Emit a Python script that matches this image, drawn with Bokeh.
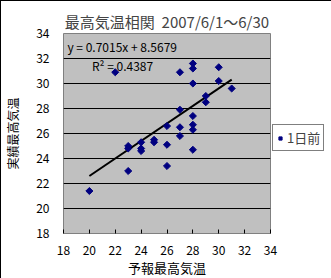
import numpy as np
from bokeh.plotting import figure
from bokeh.models import Range1d, FixedTicker, Legend, LegendItem, ColumnDataSource
from bokeh.core.properties import value
from bokeh.embed import file_html
from bokeh.resources import INLINE

title_text = "最高気温相関\u00a0\u00a02007/6/1～6/30"
x_label = "予報最高気温"
y_label = "実績最高気温"
series_name = "1日前"

forecast = [20, 22, 23, 23, 23, 24, 24, 24, 25, 25, 26, 26, 26, 27, 27, 27, 27,
            28, 28, 28, 28, 28, 28, 28, 29, 29, 30, 30, 31]
actual = [21.4, 30.9, 25.0, 24.8, 23.0, 25.3, 24.8, 24.6, 25.5, 25.3, 26.6, 25.1, 23.4,
          30.9, 27.9, 26.5, 25.8, 31.6, 31.2, 30.0, 27.4, 26.7, 26.3, 24.7, 29.0, 28.5,
          31.3, 30.2, 29.6]

slope = 0.7015
intercept = 8.5679
r_squared = 0.4387
axis_ticks = [18, 20, 22, 24, 26, 28, 30, 32, 34]

JP = "Noto Sans CJK JP"

p = figure(frame_width=207, frame_height=200, x_range=Range1d(18, 34), y_range=Range1d(18, 34),
           output_backend="svg", toolbar_location=None,
           min_border_left=62, min_border_right=60, min_border_top=32, min_border_bottom=44,
           background_fill_color="#C0C0C0", border_fill_color="white",
           outline_line_color="#808080")
p.styles = {"border": "1px solid black"}

p.title.text = title_text
p.title.text_font = JP
p.title.text_font_size = "15px"
p.title.text_font_style = "normal"
p.title.align = "center"
p.title.standoff = 4

p.xgrid.visible = False
p.ygrid.ticker = FixedTicker(ticks=axis_ticks)
p.ygrid.grid_line_color = "black"
p.ygrid.grid_line_alpha = 1

for ax in (p.xaxis[0], p.yaxis[0]):
    ax.ticker = FixedTicker(ticks=axis_ticks)
    ax.axis_line_color = None
    ax.major_label_text_font = JP
    ax.major_label_text_font_size = "12px"
    ax.major_label_text_color = "black"
    ax.minor_tick_line_color = None
    ax.axis_label_text_font = JP
    ax.axis_label_text_font_style = "normal"
    ax.axis_label_text_color = "black"

p.xaxis.axis_label = x_label
p.xaxis.axis_label_text_font_size = "13px"
p.xaxis.major_tick_in = 4
p.xaxis.major_tick_out = 0
p.xaxis.major_tick_line_color = "black"
p.xaxis.major_label_standoff = 12
p.xaxis.axis_label_standoff = 0

p.yaxis.axis_label = y_label
p.yaxis.axis_label_text_font_size = "12px"
p.yaxis.major_tick_line_color = None
p.yaxis.major_tick_in = 0
p.yaxis.major_tick_out = 0
p.yaxis.major_label_standoff = 14
p.yaxis.axis_label_standoff = 12

# trend line from displayed regression
xs = np.array([min(forecast), max(forecast)], dtype=float)
ys = slope * xs + intercept
p.line(xs, ys, line_color="black", line_width=2)

src = ColumnDataSource(dict(x=forecast, y=actual))
r = p.scatter("x", "y", source=src, marker="square", angle=np.pi / 4, size=5,
              fill_color="#000080", line_color="#000080")

eq_text = "y = %.4fx + %.4f" % (slope, intercept)
r2_text = "R² = %.4f" % r_squared
p.text(x=[18.3], y=[32.95], text=[eq_text], text_font=value(JP), text_font_size="12px",
       text_baseline="middle", text_color="black")
p.text(x=[20.2], y=[31.45], text=[r2_text], text_font=value(JP), text_font_size="12px",
       text_baseline="middle", text_color="black")

legend = Legend(items=[LegendItem(label=series_name, renderers=[r])],
                location=(2, 82), margin=0, padding=3, spacing=0,
                label_standoff=3, glyph_width=8, glyph_height=12, label_height=12,
                label_text_font=JP, label_text_font_size="13px",
                border_line_color="black", border_line_width=1,
                background_fill_color="white", background_fill_alpha=1)
p.add_layout(legend, "right")

open("out.html", "w").write(file_html(p, INLINE))
